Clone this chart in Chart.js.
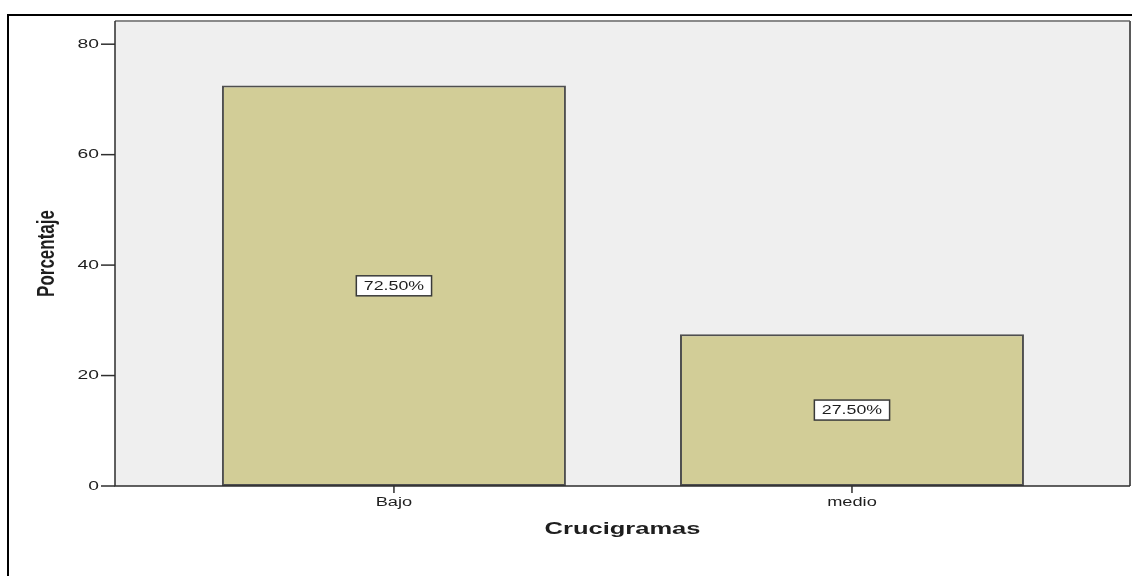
<!DOCTYPE html>
<html>
<head>
<meta charset="utf-8">
<script src="https://cdn.jsdelivr.net/npm/chart.js@4"></script>
<style>
  html, body { margin: 0; padding: 0; background: #fff; }
  #wrap { width: 1132px; height: 576px; position: relative; }
</style>
</head>
<body>
<div id="wrap"><canvas id="chart" width="1132" height="576"></canvas></div>
<script>
// ── Data ──
const categories = ['Bajo', 'medio'];
const percentages = [72.5, 27.5];
const yTicks = [0, 20, 40, 60, 80];
const xTitle = 'Crucigramas';
const yTitle = 'Porcentaje';

// ── Style ──
const BAR_FILL = '#d2cd97';
const BAR_EDGE = '#4f4f4f';
const PLOT_BG = '#efefef';
const INK = '#1e1e1e';
const STRETCH = 1.48; // the reference text is stretched horizontally

function stretchedText(ctx, text, x, y, align, font, sx) {
    ctx.save();
    ctx.translate(x, y);
    ctx.scale(sx, 1);
    ctx.font = font;
    ctx.textAlign = align;
    ctx.textBaseline = 'middle';
    ctx.fillStyle = INK;
    ctx.fillText(text, 0, 0);
    ctx.restore();
}

// ── Frame, plot background, axes, labels ──
const spssLook = {
    id: 'spssLook',
    beforeDatasetsDraw(chart) {
        const { ctx, chartArea: a } = chart;
        ctx.save();
        ctx.fillStyle = PLOT_BG;
        ctx.fillRect(a.left, a.top, a.right - a.left, a.bottom - a.top);
        ctx.restore();
    },
    afterDatasetsDraw(chart) {
        const { ctx, chartArea: a, scales } = chart;
        const xs = scales.x, ys = scales.y;
        ctx.save();

        // outer frame (clipped by the page edge)
        ctx.strokeStyle = '#000';
        ctx.lineWidth = 2;
        ctx.strokeRect(8, 15, 1140, 600);

        // plot area border
        ctx.lineWidth = 2;
        ctx.strokeStyle = '#8a8a8a';
        ctx.beginPath(); ctx.moveTo(a.left, a.top); ctx.lineTo(a.right, a.top); ctx.stroke();
        ctx.strokeStyle = '#5a5a5a';
        ctx.beginPath(); ctx.moveTo(a.right, a.top); ctx.lineTo(a.right, a.bottom); ctx.stroke();
        ctx.strokeStyle = '#2e2e2e';
        ctx.lineWidth = 1.5;
        ctx.beginPath();
        ctx.moveTo(a.left, a.top); ctx.lineTo(a.left, a.bottom); ctx.lineTo(a.right, a.bottom);
        ctx.stroke();

        // y ticks
        yTicks.forEach(v => {
            const py = ys.getPixelForValue(v);
            ctx.strokeStyle = '#2e2e2e';
            ctx.lineWidth = 1.5;
            ctx.beginPath(); ctx.moveTo(a.left - 14, py); ctx.lineTo(a.left, py); ctx.stroke();
            stretchedText(ctx, String(v), a.left - 16, py, 'right', '13px "Liberation Sans", Arial, sans-serif', STRETCH);
        });

        // x ticks
        categories.forEach((c, i) => {
            const px = xs.getPixelForValue(i);
            ctx.strokeStyle = '#2e2e2e';
            ctx.lineWidth = 1.5;
            ctx.beginPath(); ctx.moveTo(px, a.bottom); ctx.lineTo(px, a.bottom + 7); ctx.stroke();
            stretchedText(ctx, c, px, a.bottom + 17, 'center', '12px "Liberation Sans", Arial, sans-serif', 1.52);
        });

        // axis titles
        stretchedText(ctx, xTitle, (a.left + a.right) / 2, 529, 'center', 'bold 17px "Liberation Sans", Arial, sans-serif', 1.5);
        ctx.save();
        ctx.translate(47, (a.top + a.bottom) / 2);
        ctx.rotate(-Math.PI / 2);
        ctx.scale(1, 1.4);
        ctx.font = 'bold 17px "Liberation Sans", Arial, sans-serif';
        ctx.textAlign = 'center';
        ctx.textBaseline = 'middle';
        ctx.fillStyle = INK;
        ctx.fillText(yTitle, 0, 0);
        ctx.restore();

        // value boxes in the middle of each bar
        const meta = chart.getDatasetMeta(0);
        meta.data.forEach((bar, i) => {
            const label = percentages[i].toFixed(2) + '%';
            const cy = (bar.y + bar.base) / 2;
            const font = '12px "Liberation Sans", Arial, sans-serif';
            ctx.font = font;
            const w = ctx.measureText(label).width * STRETCH + 15;
            const h = 20;
            ctx.fillStyle = '#fff';
            ctx.fillRect(bar.x - w / 2, cy - h / 2, w, h);
            ctx.strokeStyle = '#3a3a3a';
            ctx.lineWidth = 1.5;
            ctx.strokeRect(bar.x - w / 2, cy - h / 2, w, h);
            stretchedText(ctx, label, bar.x, cy + 0.5, 'center', font, STRETCH);
        });

        ctx.restore();
    }
};

// ── Chart ──
new Chart(document.getElementById('chart'), {
    type: 'bar',
    data: {
        datasets: [{
            data: categories.map((c, i) => ({ x: i, y: percentages[i] })),
            backgroundColor: BAR_FILL,
            borderColor: BAR_EDGE,
            borderWidth: 2,
            borderSkipped: false,
            categoryPercentage: 1,
            barPercentage: 0.751,
        }]
    },
    options: {
        responsive: false,
        animation: false,
        layout: { padding: { left: 115, top: 21, right: 2, bottom: 90 } },
        plugins: {
            legend: { display: false },
            tooltip: { enabled: false },
        },
        scales: {
            x: {
                type: 'linear', display: false, offset: false,
                min: -0.609, max: 1.607,
                afterBuildTicks: s => { s.ticks = categories.map((c, i) => ({ value: i })); }
            },
            y: { display: false, min: 0, max: 84.2 }
        }
    },
    plugins: [spssLook]
});
</script>
</body>
</html>
